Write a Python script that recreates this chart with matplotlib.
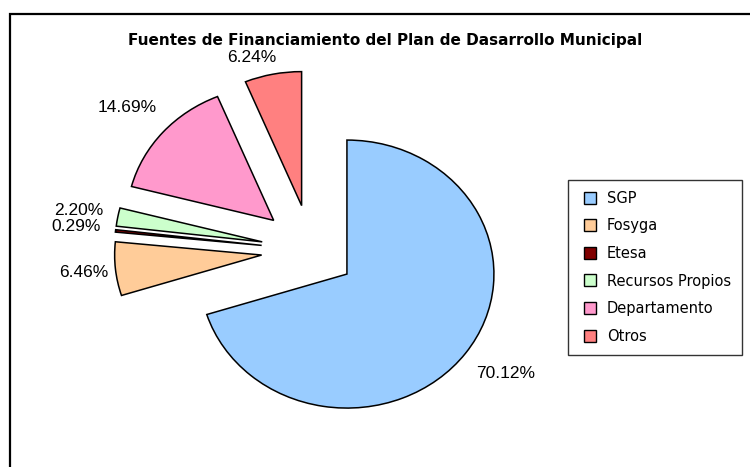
import numpy as np
import matplotlib.pyplot as plt
from matplotlib.patches import Rectangle
from matplotlib.lines import Line2D

# data
labels = ["SGP", "Fosyga", "Etesa", "Recursos Propios", "Departamento", "Otros"]
shares = [70.12, 6.46, 0.29, 2.20, 14.69, 6.24]
colors = ["#99CCFF", "#FFCC99", "#800000", "#CCFFCC", "#FF99CC", "#FF8080"]
explode = [0.30, 0.34, 0.34, 0.34, 0.34, 0.34]

title = "Fuentes de Financiamiento del Plan de Dasarrollo Municipal"

# label distance from each slice tip, and a sideways nudge (data units)
label_dist = [1.25, 1.24, 1.29, 1.27, 1.28, 1.13]
label_dx = [0.07, 0.02, 0.02, 0.0, -0.03, -0.12]

fig = plt.figure(figsize=(7.5, 4.67), dpi=100)
ax = fig.add_axes([0, 0, 1, 1])

wedges, texts, autotexts = ax.pie(
    shares, colors=colors, explode=explode, startangle=90, counterclock=False,
    autopct="%.2f%%",
    wedgeprops=dict(edgecolor="black", linewidth=1.1),
    textprops=dict(family="Liberation Sans", fontsize=12.5, color="black"))

for w, t, d, dx in zip(wedges, autotexts, label_dist, label_dx):
    ang = np.deg2rad((w.theta1 + w.theta2) / 2)
    cx, cy = w.center
    t.set_position((cx + d * w.r * np.cos(ang) + dx, cy + d * w.r * np.sin(ang)))
    t.set_ha("center")
    t.set_va("center")

# the original image is stretched horizontally, so no equal aspect
ax.set_aspect("auto")
ax.set_xlim(-2.118, 2.984)
ax.set_ylim(-1.617, 1.868)
ax.axis("off")

fig.text(0.513, 0.914, title, ha="center", va="center",
         family="DejaVu Sans", fontweight="bold", fontsize=11)

# chart area border (right and bottom sides fall outside the image)
fig.patches.append(Rectangle((0.0127, -0.05), 1.1, 0.97 + 0.05,
                             transform=fig.transFigure, fill=False,
                             edgecolor="black", linewidth=1.6))

handles = [Line2D([], [], linestyle="none", marker="s", markersize=9,
                  markerfacecolor=c, markeredgecolor="black", markeredgewidth=1.0)
           for c in colors]
leg = fig.legend(handles, labels, loc="upper left",
                 bbox_to_anchor=(568 / 750, 1 - 180 / 467),
                 prop=dict(family="DejaVu Sans", size=10.5), frameon=True,
                 fancybox=False, edgecolor="black", handlelength=1.55,
                 handletextpad=0.35, labelspacing=0.86, borderpad=0.75,
                 borderaxespad=0)
leg.get_frame().set_linewidth(1.0)

fig.savefig("out.png", dpi=100, facecolor="white")
